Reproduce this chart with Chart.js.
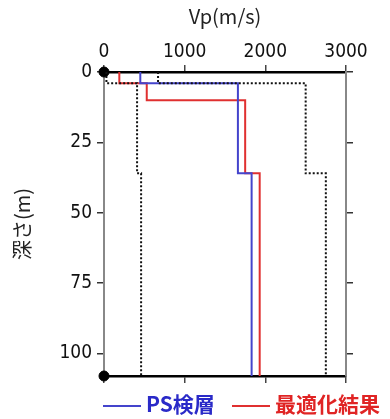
<!DOCTYPE html>
<html>
<head>
<meta charset="utf-8">
<script src="https://cdn.jsdelivr.net/npm/chart.js@4/dist/chart.umd.min.js"></script>
<style>
  body { margin: 0; background: #fff; }
  #wrap { position: relative; width: 390px; height: 419px; }
  .leg { position: absolute; top: 388px; font: bold 21px "Noto Sans CJK JP", sans-serif; white-space: nowrap; }
  .leg span { display: inline-block; width: 38px; height: 2px; vertical-align: middle; margin-right: 5px; }
</style>
</head>
<body>
<div id="wrap">
  <canvas id="vpChart" width="390" height="419"></canvas>
  <div class="leg" style="left:103px;color:#2a2ac8"><span style="background:#4444cc"></span>PS検層</div>
  <div class="leg" style="left:232px;color:#e02424"><span style="background:#e03030"></span>最適化結果</div>
</div>
<script>
// 層境界 (m) と Vp (m/s)
const psDepth = [0, 4, 36, 108];
const psVp = [450, 1660, 1830];
const optDepth = [0, 4, 10, 36, 108];
const optVp = [190, 530, 1750, 1930];
const boundDepth = [0, 4, 36, 108];
const lowerVp = [30, 410, 460];
const upperVp = [670, 2500, 2750];
const xTicks = [0, 1000, 2000, 3000];
const yTicks = [0, 25, 50, 75, 100];
const maxDepth = 108;

// 階段状の折れ線
function steps(depths, vals) {
    const pts = [];
    vals.forEach((v, i) => {
        pts.push({ x: v, y: depths[i] });
        pts.push({ x: v, y: depths[i + 1] });
    });
    return pts;
}

const tickFont = { family: '"Liberation Sans Narrow", "DejaVu Sans Condensed", "Noto Sans CJK JP", sans-serif', size: 19 };

new Chart(document.getElementById('vpChart'), {
    type: 'scatter',
    data: {
        datasets: [
            { data: steps(boundDepth, lowerVp), borderColor: '#111', borderWidth: 2, borderDash: [2, 2], showLine: true, pointRadius: 0 },
            { data: steps(boundDepth, upperVp), borderColor: '#111', borderWidth: 2, borderDash: [2, 2], showLine: true, pointRadius: 0 },
            { data: steps(psDepth, psVp), borderColor: '#4444cc', borderWidth: 2, showLine: true, pointRadius: 0 },
            { data: steps(optDepth, optVp), borderColor: '#e03030', borderWidth: 2, showLine: true, pointRadius: 0 },
            { data: [{ x: 0, y: 0 }, { x: 0, y: maxDepth }], pointRadius: 5, pointBackgroundColor: '#000', pointBorderColor: '#000', clip: false }
        ]
    },
    options: {
        responsive: false,
        animation: false,
        layout: { padding: 0 },
        plugins: { legend: { display: false }, tooltip: { enabled: false } },
        scales: {
            x: {
                type: 'linear', position: 'top', min: 0, max: 3000,
                afterBuildTicks: s => { s.ticks = xTicks.map(v => ({ value: v })); },
                afterFit: s => { s.height = 72; },
                ticks: { color: '#111', font: tickFont, padding: 2, callback: v => String(v) },
                grid: { drawOnChartArea: false, color: '#444', lineWidth: 1.5, tickLength: 7 },
                border: { color: '#000', width: 2.5 },
                title: { display: true, text: 'Vp(m/s)', color: '#222', font: { family: '"Noto Sans CJK JP", sans-serif', size: 20 }, padding: { top: 4, bottom: 0 } }
            },
            x2: {
                type: 'linear', position: 'bottom', min: 0, max: 3000,
                afterBuildTicks: s => { s.ticks = xTicks.map(v => ({ value: v })); },
                afterFit: s => { s.height = 43; },
                ticks: { display: false },
                grid: { drawOnChartArea: false, color: '#444', lineWidth: 1.5, tickLength: 7 },
                border: { color: '#000', width: 2.5 }
            },
            y: {
                type: 'linear', position: 'left', reverse: true, min: 0, max: maxDepth,
                afterBuildTicks: s => { s.ticks = yTicks.map(v => ({ value: v })); },
                afterFit: s => { s.width = 104; },
                ticks: { color: '#111', font: tickFont, padding: 5, callback: v => String(v) },
                grid: { drawOnChartArea: false, color: '#333', lineWidth: 1.5, tickLength: 7 },
                border: { color: '#888', width: 2 },
                title: { display: true, text: '深さ(m)', color: '#222', font: { family: '"Noto Sans CJK JP", sans-serif', size: 20 }, padding: { top: 10, bottom: 0 } }
            },
            y2: {
                type: 'linear', position: 'right', reverse: true, min: 0, max: maxDepth,
                afterBuildTicks: s => { s.ticks = yTicks.map(v => ({ value: v })); },
                afterFit: s => { s.width = 44; },
                ticks: { display: false },
                grid: { drawOnChartArea: false, color: '#333', lineWidth: 1.5, tickLength: 7 },
                border: { color: '#888', width: 2 }
            }
        }
    }
});
</script>
</body>
</html>
